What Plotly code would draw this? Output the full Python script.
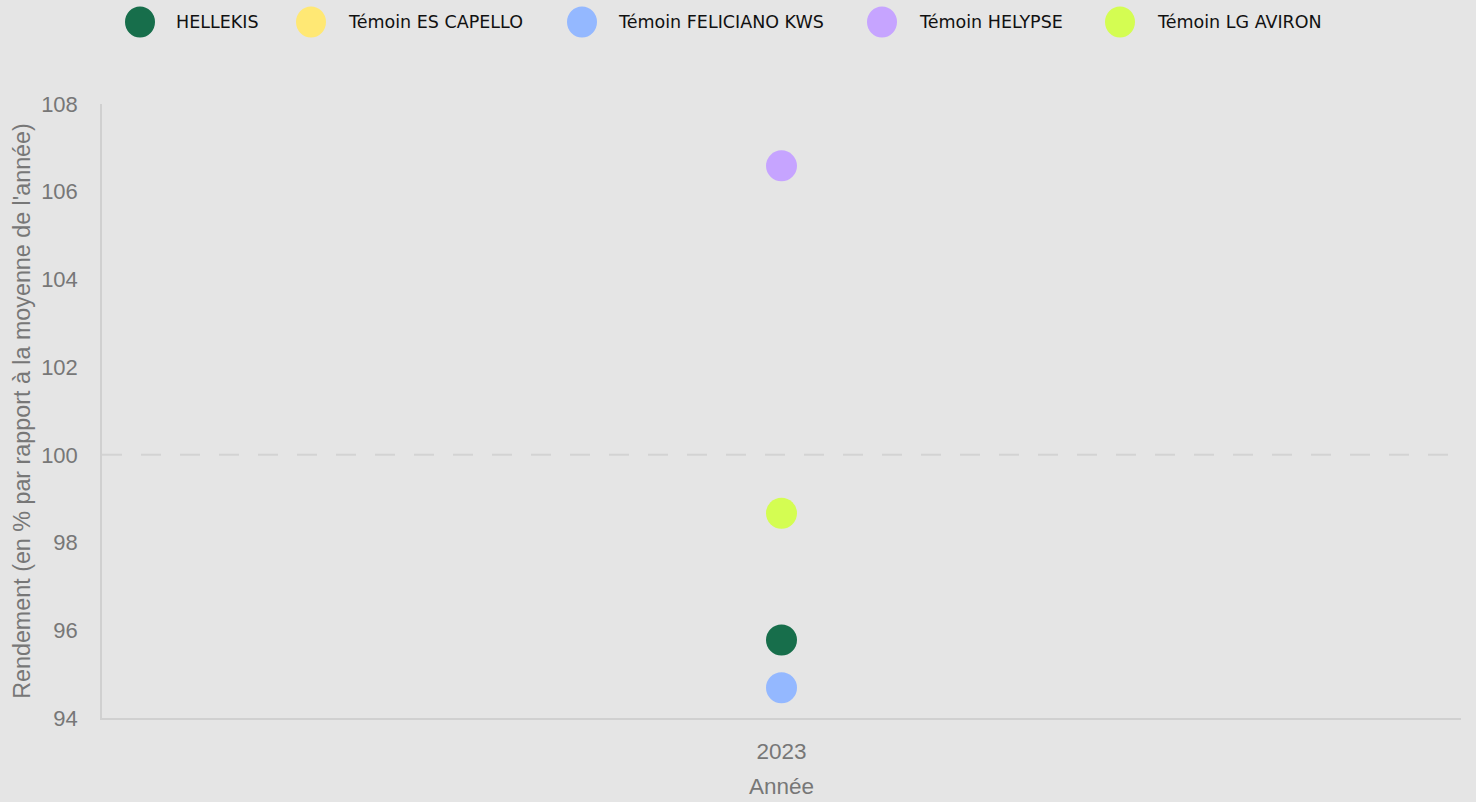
import plotly.graph_objects as go

# Data
years = ["2023"]
series_names = ["HELLEKIS", "Témoin ES CAPELLO", "Témoin FELICIANO KWS", "Témoin HELYPSE", "Témoin LG AVIRON"]
hellekis = [95.78]
es_capello = [None]
feliciano_kws = [94.69]
helypse = [106.59]
lg_aviron = [98.67]
series_values = [hellekis, es_capello, feliciano_kws, helypse, lg_aviron]
colors = ["#176e4b", "#ffe874", "#94b8ff", "#c6a4ff", "#d4fd52"]
y_ticks = [94, 96, 98, 100, 102, 104, 106, 108]
reference_level = 100

W, H = 1476, 802
ML, MR, MT, MB = 102, 15, 104, 84
PW, PH = W - ML - MR, H - MT - MB

def px_x(p):
    return (p - ML) / PW

def px_y(p):
    return (H - MB - p) / PH

BG = "#e5e5e5"
AXIS_TXT = "#777777"

fig = go.Figure()
for name, vals, col in zip(series_names, series_values, colors):
    fig.add_trace(go.Scatter(
        x=years, y=vals, name=name, mode="markers",
        marker=dict(size=31, color=col, line=dict(width=0)),
        showlegend=False,
    ))

# reference dashed line
fig.add_shape(type="line", xref="paper", yref="y", x0=0, x1=1,
              y0=reference_level, y1=reference_level,
              line=dict(color="#d3d3d3", width=2, dash="20px,19px"), layer="below")

# manual legend (large circular symbols)
marker_px = [140, 311, 582, 882, 1120]
text_px = [174, 346, 616, 917, 1155]
leg_y = 22
for name, col, mx, tx in zip(series_names, colors, marker_px, text_px):
    fig.add_shape(type="circle", xref="paper", yref="paper",
                  xsizemode="pixel", ysizemode="pixel",
                  xanchor=px_x(mx), yanchor=px_y(leg_y),
                  x0=-15, x1=15, y0=-15.5, y1=15.5,
                  fillcolor=col, line=dict(width=0))
    fig.add_annotation(text=name, xref="paper", yref="paper",
                       x=px_x(tx), y=px_y(leg_y), xanchor="left", yanchor="middle",
                       showarrow=False,
                       font=dict(family="DejaVu Sans", size=17.5, color="#111111"))

fig.update_layout(
    width=W, height=H,
    margin=dict(l=ML, r=MR, t=MT, b=MB),
    paper_bgcolor=BG, plot_bgcolor=BG,
    font=dict(family="Liberation Sans, Arial", size=22, color=AXIS_TXT),
    showlegend=False,
)
fig.update_xaxes(
    type="category", range=[-0.5, 0.5], automargin=False,
    showgrid=False, zeroline=False,
    showline=True, linecolor="#d0d0d0", linewidth=2,
    ticks="outside", ticklen=12, tickcolor="rgba(0,0,0,0)",
    tickfont=dict(size=22.5, color=AXIS_TXT),
    title=dict(text="Année", font=dict(size=22.5, color=AXIS_TXT), standoff=15),
)
fig.update_yaxes(
    range=[94, 108], tickvals=y_ticks, automargin=False,
    showgrid=False, zeroline=False,
    showline=True, linecolor="#d0d0d0", linewidth=1.5,
    ticks="outside", ticklen=18, tickcolor="rgba(0,0,0,0)",
    tickfont=dict(size=22, color=AXIS_TXT),
    title=dict(text="Rendement (en % par rapport à la moyenne de l'année)",
               font=dict(size=23.3, color=AXIS_TXT), standoff=4),
)

fig.write_html("out.html", config={"displayModeBar": False},
               post_script="document.body.style.margin='0';document.body.style.background='#e5e5e5';")
